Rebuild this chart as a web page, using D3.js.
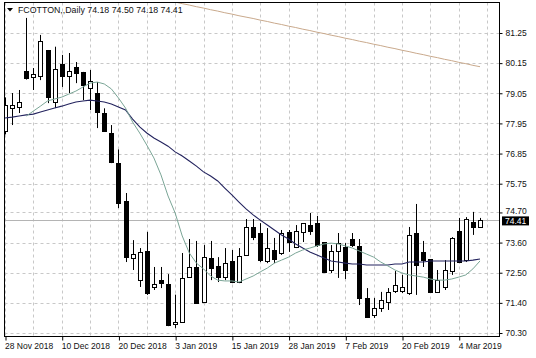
<!DOCTYPE html>
<html><head><meta charset="utf-8">
<script src="https://cdn.jsdelivr.net/npm/d3@7"></script>
<style>html,body{margin:0;padding:0;background:#fff;} svg{display:block;}</style>
</head><body>
<svg id="chart" width="536" height="358"></svg>
<script>
const dates = ["28 Nov 2018","29 Nov 2018","30 Nov 2018","3 Dec 2018","4 Dec 2018","5 Dec 2018","6 Dec 2018","7 Dec 2018",
"10 Dec 2018","11 Dec 2018","12 Dec 2018","13 Dec 2018","14 Dec 2018","17 Dec 2018","18 Dec 2018","19 Dec 2018",
"20 Dec 2018","21 Dec 2018","24 Dec 2018","26 Dec 2018","27 Dec 2018","28 Dec 2018","31 Dec 2018","2 Jan 2019",
"3 Jan 2019","4 Jan 2019","7 Jan 2019","8 Jan 2019","9 Jan 2019","10 Jan 2019","11 Jan 2019","14 Jan 2019",
"15 Jan 2019","16 Jan 2019","17 Jan 2019","18 Jan 2019","22 Jan 2019","23 Jan 2019","24 Jan 2019","25 Jan 2019",
"28 Jan 2019","29 Jan 2019","30 Jan 2019","31 Jan 2019","1 Feb 2019","4 Feb 2019","5 Feb 2019","6 Feb 2019",
"7 Feb 2019","8 Feb 2019","11 Feb 2019","12 Feb 2019","13 Feb 2019","14 Feb 2019","15 Feb 2019","19 Feb 2019",
"20 Feb 2019","21 Feb 2019","22 Feb 2019","25 Feb 2019","26 Feb 2019","27 Feb 2019","28 Feb 2019","1 Mar 2019",
"4 Mar 2019","5 Mar 2019","6 Mar 2019","7 Mar 2019"];

const open  = [77.66,78.52,78.55,79.86,79.64,79.68,80.63,78.73,80.12,79.68,80.01,79.83,79.24,79.06,78.33,77.60,
76.50,75.12,73.04,72.23,73.29,71.98,72.23,72.09,70.63,70.70,72.34,72.71,71.43,73.04,72.75,72.34,
72.93,72.16,73.15,74.17,73.95,72.93,73.33,73.22,73.99,73.44,73.99,74.24,74.31,73.62,72.60,73.29,
73.44,73.73,73.48,71.58,70.96,71.21,71.43,71.83,71.83,71.76,73.95,73.26,73.00,71.80,71.98,72.56,
74.02,72.96,74.35,74.18];
const high  = [78.90,79.06,79.17,81.80,79.97,81.18,80.63,80.75,80.45,80.52,80.19,79.83,79.90,79.46,78.50,77.89,
77.00,75.41,73.69,73.40,73.99,72.71,72.71,72.45,71.70,73.22,73.73,73.66,73.51,73.66,73.07,73.40,
73.33,73.40,74.46,74.46,74.31,74.13,73.77,74.06,74.06,74.24,74.31,74.68,74.57,73.62,73.51,73.95,
73.58,73.95,73.73,71.94,71.58,71.80,71.94,72.56,72.42,74.17,75.01,73.66,73.00,72.60,72.96,73.80,
74.50,74.53,74.72,74.50];
const low   = [77.55,77.89,78.33,79.55,79.17,79.53,78.69,78.51,79.28,79.06,79.42,78.80,78.44,77.78,77.64,76.50,
74.86,72.89,72.60,71.98,71.69,71.87,71.94,70.55,70.48,70.70,72.31,71.36,71.43,72.23,72.16,72.23,
72.12,72.12,73.11,73.69,72.89,72.85,72.85,73.15,73.26,73.40,73.62,73.88,73.44,72.49,72.49,72.31,
72.27,73.44,71.32,70.85,70.85,71.07,71.14,71.76,71.76,71.69,71.69,72.71,71.76,71.76,71.87,72.42,
72.85,72.89,73.88,74.18];
const close = [78.62,78.62,78.73,79.61,79.75,80.96,78.91,79.95,79.68,79.86,79.79,79.35,79.50,78.37,77.67,76.54,
75.04,73.07,73.18,73.26,71.76,72.09,72.12,70.59,70.70,72.31,72.71,71.40,73.07,72.67,72.34,72.85,
72.16,73.11,74.17,73.80,72.96,73.40,73.00,73.95,73.62,74.02,74.31,74.02,73.51,72.53,73.29,73.58,
72.60,73.51,71.58,70.88,71.21,71.50,71.80,72.05,71.98,73.88,72.78,72.96,71.80,72.23,72.60,73.77,
72.89,74.46,74.17,74.41];

// moving averages
const maFast = [null,null,null,78.22,78.40,78.58,78.77,78.84,78.91,79.02,79.13,79.28,79.42,79.46,79.39,79.21,
78.88,78.51,78.00,77.60,77.16,76.69,76.07,75.30,74.68,73.84,73.22,72.85,72.64,72.38,72.23,72.20,
72.20,72.16,72.27,72.38,72.53,72.67,72.85,72.96,73.07,73.22,73.33,73.40,73.48,73.55,73.58,73.55,
73.48,73.40,73.29,73.18,73.07,72.89,72.75,72.60,72.49,72.42,72.38,72.34,72.27,72.23,72.23,72.27,
72.34,72.42,72.64,72.93];
const maMid = [78.15,78.18,78.22,78.26,78.29,78.37,78.44,78.51,78.58,78.66,78.73,78.77,78.80,78.77,78.73,78.66,
78.55,78.44,78.11,77.82,77.60,77.42,77.27,77.12,76.91,76.76,76.58,76.39,76.18,76.03,75.85,75.59,
75.34,75.08,74.83,74.61,74.42,74.24,74.06,73.88,73.73,73.55,73.40,73.26,73.15,73.04,72.93,72.89,
72.85,72.82,72.82,72.78,72.78,72.78,72.78,72.82,72.82,72.89,72.89,72.89,72.93,72.93,72.93,72.93,
72.93,72.93,72.96,73.00];
const maSlow = [null,null,null,null,null,null,null,null,null,null,null,null,null,null,null,null,
null,null,null,null,null,null,null,82.44,82.38,82.32,82.27,82.21,82.16,82.10,82.05,81.99,
81.94,81.88,81.83,81.78,81.72,81.67,81.61,81.56,81.50,81.45,81.39,81.34,81.28,81.23,81.17,81.12,
81.06,81.01,80.95,80.90,80.84,80.79,80.73,80.68,80.62,80.57,80.51,80.46,80.40,80.35,80.29,80.24,
80.18,80.13,80.07,80.02];

const priceTicks = [81.25,80.15,79.05,77.95,76.85,75.75,74.70,73.60,72.50,71.40,70.30];
const dateLabels = ["28 Nov 2018","10 Dec 2018","20 Dec 2018","3 Jan 2019","15 Jan 2019","28 Jan 2019","7 Feb 2019","20 Feb 2019","4 Mar 2019"];
const symbol = "FCOTTON,,Daily";
const lastIdx = dates.length - 1;

const svg = d3.select("#chart");
const FONT = "'Liberation Sans', Arial, sans-serif";
const L = 4.5, R = 499.5, T = 2.5, B = 336.5;

const x = d3.scaleLinear().domain([0, lastIdx]).range([5, 480]);
const y = d3.scaleLinear().domain([70.30, 81.25]).range([333, 33]);

svg.append("defs").append("clipPath").attr("id","plot")
  .append("rect").attr("x", L).attr("y", T).attr("width", R-L).attr("height", B-T);

// grid
const grid = svg.append("g").attr("stroke","#c8c8c8").attr("stroke-dasharray","3,3").attr("stroke-width",1);
priceTicks.forEach(p => {
  const yy = Math.round(y(p)) + 0.5;
  grid.append("line").attr("x1", L).attr("x2", R).attr("y1", yy).attr("y2", yy);
});
for (let i = 0; i <= lastIdx + 1; i += 4) {
  const xx = Math.round(x(i)) + 0.5;
  if (xx < R) grid.append("line").attr("x1", xx).attr("x2", xx).attr("y1", T).attr("y2", B);
}

// last price line
const yLast = Math.round(y(close[lastIdx])) + 0.5;
svg.append("line").attr("x1", L).attr("x2", R).attr("y1", yLast).attr("y2", yLast)
  .attr("stroke","#b4b4b4").attr("stroke-width",1);

const plot = svg.append("g").attr("clip-path","url(#plot)");

// candles
const data = dates.map((d, i) => ({i, o: open[i], h: high[i], l: low[i], c: close[i]}));
const cg = plot.append("g");
cg.selectAll("line.wick").data(data).join("line").attr("class","wick")
  .attr("x1", d => Math.round(x(d.i)) + 0.5).attr("x2", d => Math.round(x(d.i)) + 0.5)
  .attr("y1", d => y(d.h)).attr("y2", d => y(d.l))
  .attr("stroke","#000").attr("stroke-width",1);
cg.selectAll("rect.body").data(data).join("rect").attr("class","body")
  .attr("x", d => Math.round(x(d.i)) - 1.5)
  .attr("width", 4)
  .attr("y", d => Math.round(y(Math.max(d.o, d.c))) + 0.5)
  .attr("height", d => Math.max(0.5, Math.round(y(Math.min(d.o, d.c))) - Math.round(y(Math.max(d.o, d.c)))))
  .attr("fill", d => d.c >= d.o ? "#fff" : "#000")
  .attr("stroke","#000").attr("stroke-width",1);

// moving averages
const line = d3.line().defined(d => d != null).x((d, i) => x(i)).y(d => y(d));
plot.append("path").datum(maSlow).attr("d", line).attr("fill","none").attr("stroke","#c9a98c").attr("stroke-width",1);
plot.append("path").datum(maMid).attr("d", line).attr("fill","none").attr("stroke","#23235e").attr("stroke-width",1.1);
plot.append("path").datum(maFast).attr("d", line).attr("fill","none").attr("stroke","#7aa596").attr("stroke-width",1);

// frame
svg.append("rect").attr("x", L).attr("y", T).attr("width", R-L).attr("height", B-T)
  .attr("fill","none").attr("stroke","#000").attr("stroke-width",1);

// right axis
const ay = svg.append("g").attr("transform", `translate(${R},0)`)
  .call(d3.axisRight(y).tickValues(priceTicks).tickSize(3).tickPadding(3).tickFormat(d3.format(".2f")));
ay.select(".domain").remove();
ay.selectAll("line").attr("stroke","#000");
ay.selectAll("text").attr("font-family", FONT).attr("font-size","8.5px").attr("fill","#111");
// the 74.70 label sits just above the last-price box, as in the reference
ay.selectAll(".tick").filter(d => d === 74.70).select("text").attr("dy","0.1em");

// bottom axis
const tickIdx = dateLabels.map(l => dates.indexOf(l));
const ax = svg.append("g").attr("transform", `translate(0,${B})`)
  .call(d3.axisBottom(x).tickValues(tickIdx).tickSize(4).tickPadding(2).tickFormat(i => dates[i]));
ax.select(".domain").remove();
ax.selectAll(".tick line").attr("stroke","#000").attr("transform","translate(0.5,0)");
ax.selectAll("text").attr("font-family", FONT).attr("font-size","8.5px").attr("fill","#111")
  .attr("text-anchor","start").attr("dx","-0.5");

// last price label
const lp = svg.append("g");
lp.append("rect").attr("x", 502).attr("y", y(close[lastIdx]) - 4).attr("width", 27).attr("height", 9).attr("fill","#000");
lp.append("text").attr("x", 505).attr("y", y(close[lastIdx]) + 0.5).attr("dy","0.34em")
  .attr("font-family", FONT).attr("font-size","8.5px").attr("fill","#fff").text(close[lastIdx].toFixed(2));

// header
svg.append("path").attr("d","M7,8 L13,8 L10,11.5 Z").attr("fill","#000");
svg.append("text").attr("x", 18).attr("y", 12.5)
  .attr("font-family", FONT).attr("font-size","8.8px").attr("fill","#111")
  .text(`${symbol}  ${open[lastIdx].toFixed(2)} ${high[lastIdx].toFixed(2)} ${low[lastIdx].toFixed(2)} ${close[lastIdx].toFixed(2)}`);
</script>
</body></html>
